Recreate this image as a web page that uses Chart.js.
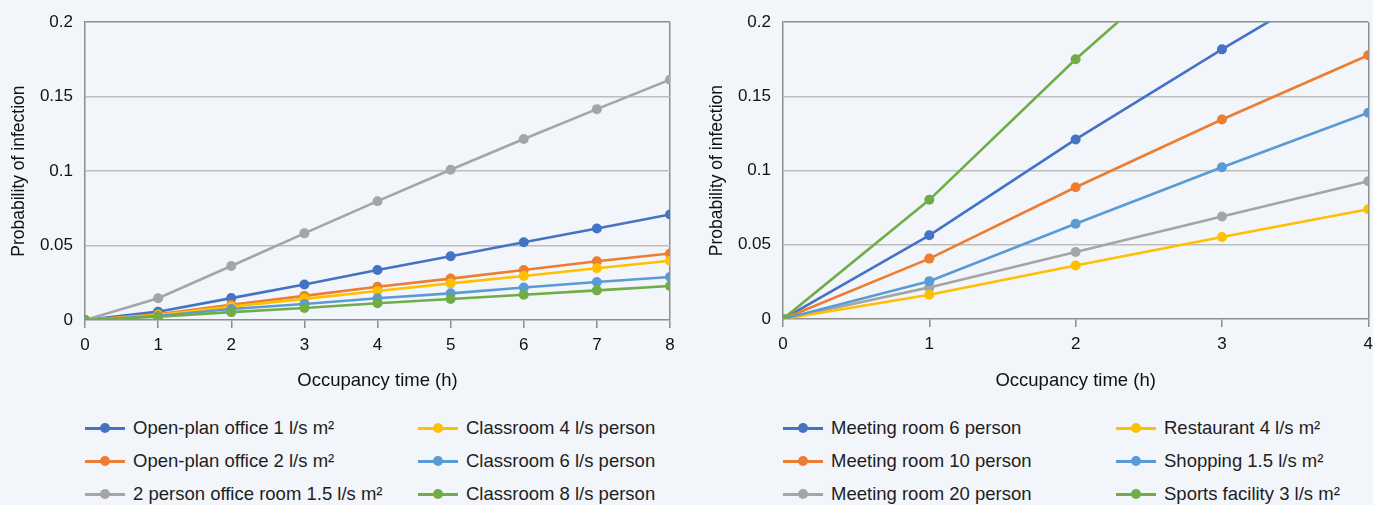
<!DOCTYPE html>
<html>
<head>
<meta charset="utf-8">
<script src="https://cdn.jsdelivr.net/npm/chart.js@4.4.1/dist/chart.umd.min.js"></script>
<style>
  html, body { margin: 0; padding: 0; background: #f2f5fa; }
  body { width: 1373px; height: 505px; position: relative; overflow: hidden; font-family: "Liberation Sans", Arial, sans-serif; }
  .panel { position: absolute; top: 0; height: 505px; }
  .panel canvas { position: absolute; left: 0; top: 0; }
  .item { position: absolute; display: flex; align-items: center; height: 24px; margin-top: -12px; font-size: 18.5px; color: #1e1e1e; white-space: nowrap; }
  .sym { position: relative; width: 40px; height: 3px; margin-right: 8px; }
  .sym i { position: absolute; left: 15px; top: -3.5px; width: 10px; height: 10px; border-radius: 50%; }
</style>
</head>
<body>
<div class="panel" id="leftPanel" style="left:0;width:690px"><canvas id="left" width="690" height="400"></canvas></div>
<div class="panel" id="rightPanel" style="left:690px;width:690px"><canvas id="right" width="690" height="400"></canvas></div>
<script>
// left chart: offices and classrooms, 0-8 h
const hoursLeft = [0, 1, 2, 3, 4, 5, 6, 7, 8];
const openPlan1 = [0, 0.0056, 0.0147, 0.0238, 0.0336, 0.0428, 0.0522, 0.0615, 0.0709];
const openPlan2 = [0, 0.0038, 0.0102, 0.0162, 0.0223, 0.0278, 0.0336, 0.0394, 0.0447];
const twoPerson = [0, 0.0146, 0.0363, 0.0582, 0.0798, 0.1009, 0.1216, 0.1416, 0.1614];
const classroom4 = [0, 0.0034, 0.0090, 0.0142, 0.0195, 0.0246, 0.0295, 0.0347, 0.0398];
const classroom6 = [0, 0.0027, 0.0074, 0.0107, 0.0146, 0.0179, 0.0218, 0.0255, 0.0289];
const classroom8 = [0, 0.0022, 0.0053, 0.0081, 0.0112, 0.0141, 0.0170, 0.0199, 0.0228];
const labelsLeft = ['Open-plan office 1 l/s m²', 'Open-plan office 2 l/s m²', '2 person office room 1.5 l/s m²',
  'Classroom 4 l/s person', 'Classroom 6 l/s person', 'Classroom 8 l/s person'];

// right chart: meeting rooms etc, 0-4 h
const hoursRight = [0, 1, 2, 3, 4];
const meeting6 = [0, 0.0564, 0.1210, 0.1817, 0.2400];
const meeting10 = [0, 0.0407, 0.0888, 0.1344, 0.1777];
const meeting20 = [0, 0.0213, 0.0452, 0.0691, 0.0928];
const restaurant = [0, 0.0163, 0.0360, 0.0552, 0.0740];
const shopping = [0, 0.0255, 0.0642, 0.1022, 0.1390];
const sports = [0, 0.0803, 0.1750, 0.2620, 0.3400];
const labelsRight = ['Meeting room 6 person', 'Meeting room 10 person', 'Meeting room 20 person',
  'Restaurant 4 l/s m²', 'Shopping 1.5 l/s m²', 'Sports facility 3 l/s m²'];

const yTicks = ['0', '0.05', '0.1', '0.15', '0.2'];
const colors = ['#4472C4', '#ED7D31', '#A5A5A5', '#FFC000', '#5B9BD5', '#70AD47'];

const FONT = "'Liberation Sans', Arial, sans-serif";
const FRAME = '#8e8e8e';
const GRID = '#bdbdbd';

function makeChart(id, hours, series, labels, opt) {
  const datasets = series.map((vals, i) => ({
    label: labels[i],
    data: vals.map((v, j) => ({ x: hours[j], y: v })),
    borderColor: colors[i],
    backgroundColor: colors[i],
    pointBackgroundColor: colors[i],
    borderWidth: 2.6,
    pointRadius: 5,
    pointBorderWidth: 0,
    order: series.length - i
  }));
  const maxX = hours[hours.length - 1];

  new Chart(document.getElementById(id), {
    type: 'line',
    data: { datasets: datasets },
    options: {
      responsive: false,
      animation: false,
      layout: { padding: { left: 0, top: opt.top, right: opt.right, bottom: 0 } },
      plugins: { legend: { display: false }, tooltip: { enabled: false } },
      scales: {
        x: {
          type: 'linear', min: 0, max: maxX,
          afterFit: s => { s.height = opt.bottomH; },
          ticks: { stepSize: 1, color: '#111', padding: 7, font: { family: FONT, size: 17 } },
          grid: {
            color: c => (c.index === maxX ? FRAME : 'rgba(0,0,0,0)'),
            tickColor: FRAME, tickLength: 8, lineWidth: 1.5
          },
          border: { display: true, color: FRAME, width: 1.5 },
          title: { display: true, text: 'Occupancy time (h)', color: '#111',
            font: { family: FONT, size: 18.5 }, padding: { top: 0, bottom: 8 } }
        },
        y: {
          min: 0, max: 0.2,
          afterFit: s => { s.width = opt.leftW; },
          afterBuildTicks: s => { s.ticks = yTicks.map(t => ({ value: parseFloat(t) })); },
          ticks: { color: '#111', padding: 12, font: { family: FONT, size: 17 },
            callback: (v, i) => yTicks[i] },
          grid: {
            color: c => (c.index === 4 ? FRAME : (c.index === 0 ? 'rgba(0,0,0,0)' : GRID)),
            drawTicks: false, lineWidth: 1.5
          },
          border: { display: true, color: FRAME, width: 1.5 },
          title: { display: true, text: 'Probability of infection', color: '#111',
            font: { family: FONT, size: 17.5 }, padding: { top: opt.titlePad, bottom: 0 } }
        }
      }
    }
  });
}

function makeLegend(panelId, labels, cols, rows) {
  const panel = document.getElementById(panelId);
  labels.forEach((text, i) => {
    const item = document.createElement('div');
    item.className = 'item';
    item.style.left = cols[Math.floor(i / 3)] + 'px';
    item.style.top = rows[i % 3] + 'px';
    const sym = document.createElement('span');
    sym.className = 'sym';
    sym.style.background = colors[i];
    const dot = document.createElement('i');
    dot.style.background = colors[i];
    sym.appendChild(dot);
    item.appendChild(sym);
    item.appendChild(document.createTextNode(text));
    panel.appendChild(item);
  });
}

makeChart('left', hoursLeft, [openPlan1, openPlan2, twoPerson, classroom4, classroom6, classroom8], labelsLeft,
  { top: 22, right: 20, bottomH: 80, leftW: 85, titlePad: 9 });
makeChart('right', hoursRight, [meeting6, meeting10, meeting20, restaurant, shopping, sports], labelsRight,
  { top: 21, right: 11, bottomH: 81, leftW: 93, titlePad: 17 });

makeLegend('leftPanel', labelsLeft, [85, 418], [428, 461, 494]);
makeLegend('rightPanel', labelsRight, [93, 426], [428, 461, 494]);
</script>
</body>
</html>
